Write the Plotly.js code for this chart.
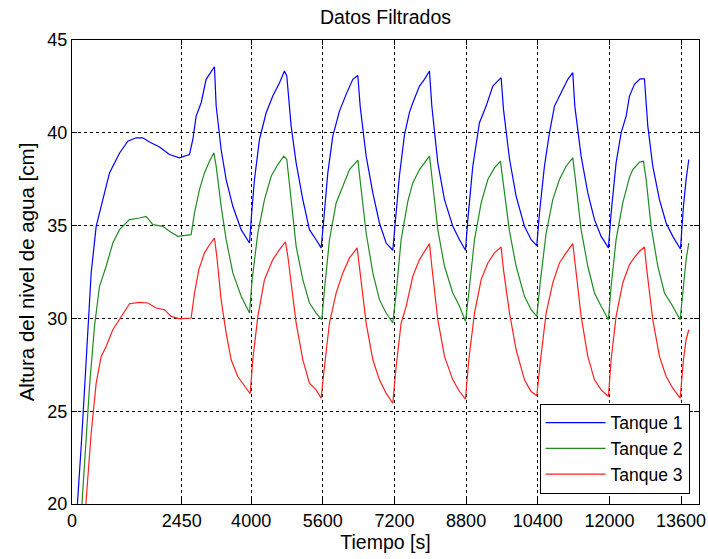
<!DOCTYPE html>
<html>
<head>
<meta charset="utf-8">
<script src="https://cdn.plot.ly/plotly-3.0.1.min.js"></script>
<style>html,body{margin:0;padding:0;background:#fff;}#chart{width:708px;height:559px;}</style>
</head>
<body>
<div id="chart"></div>
<script>
// Tick positions / labels
const xTicks = [0, 2450, 4000, 5600, 7200, 8800, 10400, 12000, 13600];
const xTickLabels = ["0", "2450", "4000", "5600", "7200", "8800", "10400", "12000", "13600"];
const yTicks = [20, 25, 30, 35, 40, 45];
const seriesNames = ["Tanque 1", "Tanque 2", "Tanque 3"];

// [tiempo (s), altura (cm)]
const tanque1 = [[80,18.5],[130,20.2],[205,23.1],[279,26.15],[353,29.57],[428,32.45],[540,34.96],[688,36.4],[837,37.84],[1060,38.9],[1247,39.55],[1433,39.73],[1581,39.73],[1730,39.5],[1954,39.24],[2177,38.83],[2400,38.65],[2623,38.83],[2698,39.64],[2772,40.9],[2884,41.62],[2995,42.88],[3107,43.33],[3181,43.56],[3219,41.44],[3330,39.1],[3442,37.48],[3591,36.04],[3777,34.78],[3963,34.06],[4000,35.3],[4074,37.48],[4186,39.64],[4335,41.08],[4484,41.98],[4633,42.7],[4744,43.33],[4796,43.06],[4893,40.36],[5005,38.38],[5154,36.4],[5302,34.78],[5451,34.24],[5563,33.8],[5615,35.14],[5712,37.84],[5823,39.82],[5972,41.17],[6121,42.07],[6270,42.88],[6382,43.09],[6434,41.44],[6568,38.74],[6717,36.76],[6865,35.14],[7014,34.06],[7163,33.67],[7223,35.32],[7312,37.7],[7424,39.9],[7535,41.1],[7610,41.62],[7759,42.52],[7870,42.88],[7982,43.33],[8034,41.44],[8168,38.38],[8317,36.4],[8503,34.96],[8652,34.24],[8786,33.67],[8838,35.32],[8949,38.2],[9098,40.54],[9247,41.44],[9396,42.52],[9582,42.97],[9634,41.26],[9768,38.6],[9917,36.58],[10103,34.96],[10252,34.24],[10378,33.92],[10438,35.68],[10549,38.2],[10661,40.0],[10773,41.44],[10921,42.16],[11070,42.88],[11182,43.24],[11227,41.44],[11368,38.74],[11517,36.76],[11666,35.32],[11815,34.42],[11978,33.8],[12038,35.68],[12149,38.38],[12261,40.0],[12373,40.9],[12447,41.98],[12559,42.61],[12685,42.91],[12782,42.91],[12857,40.36],[12968,38.2],[13117,36.4],[13266,35.14],[13415,34.42],[13586,33.74],[13653,36.04],[13712,37.48],[13772,38.56]];

const tanque2 = [[190,18.8],[227,20.2],[316,23.45],[391,26.33],[502,29.57],[614,31.73],[763,32.81],[912,34.06],[1060,34.78],[1284,35.32],[1507,35.41],[1656,35.5],[1805,35.05],[2028,34.96],[2177,34.69],[2363,34.42],[2660,34.51],[2735,35.68],[2846,36.94],[2958,37.84],[3070,38.47],[3167,38.92],[3219,38.2],[3330,36.04],[3442,34.24],[3591,32.45],[3777,31.19],[3963,30.29],[4022,32.09],[4149,34.6],[4298,36.4],[4447,37.66],[4595,38.29],[4729,38.74],[4796,38.56],[4893,36.4],[5005,33.88],[5154,32.09],[5302,30.83],[5451,30.29],[5578,29.93],[5637,31.55],[5749,34.24],[5898,36.22],[6047,37.12],[6196,38.02],[6382,38.53],[6434,37.48],[6568,34.6],[6717,32.45],[6865,31.01],[7014,30.29],[7163,29.75],[7238,31.37],[7349,34.24],[7498,36.3],[7610,37.3],[7759,38.02],[7982,38.74],[8034,37.66],[8168,34.78],[8317,32.81],[8503,31.37],[8652,30.65],[8786,29.84],[8860,31.37],[8987,34.24],[9136,36.22],[9285,37.48],[9433,38.11],[9567,38.47],[9619,37.48],[9768,34.7],[9917,32.81],[10103,31.19],[10252,30.47],[10378,30.11],[10453,31.91],[10587,34.6],[10735,36.4],[10884,37.48],[11033,38.2],[11182,38.65],[11241,37.48],[11368,34.78],[11517,32.81],[11666,31.37],[11815,30.65],[11978,29.93],[12038,31.73],[12149,34.24],[12298,36.22],[12447,37.6],[12522,38.02],[12671,38.42],[12760,38.47],[12820,37.48],[12931,34.96],[13080,32.81],[13229,31.37],[13415,30.65],[13579,29.93],[13653,31.73],[13712,33.17],[13772,34.06]];

const tanque3 = [[285,18.8],[316,20.2],[428,23.81],[540,26.51],[651,27.95],[763,28.49],[912,29.39],[1098,30.11],[1284,30.79],[1507,30.86],[1693,30.83],[1879,30.56],[2065,30.47],[2214,30.11],[2400,29.98],[2660,30.02],[2735,31.37],[2832,32.63],[2958,33.53],[3070,33.97],[3181,34.33],[3233,33.35],[3330,31.0],[3442,29.21],[3554,27.77],[3702,26.87],[3851,26.33],[3978,25.94],[4037,27.77],[4149,30.11],[4298,32.09],[4484,33.17],[4633,33.71],[4766,34.12],[4819,33.35],[4930,31.01],[5005,29.75],[5154,27.77],[5302,26.51],[5451,26.15],[5563,25.7],[5637,27.41],[5749,29.75],[5898,31.37],[6047,32.45],[6196,33.26],[6367,33.8],[6434,32.45],[6568,29.75],[6717,27.77],[6865,26.69],[7014,25.97],[7163,25.43],[7238,27.41],[7349,29.75],[7461,30.65],[7610,32.27],[7759,33.17],[7982,34.03],[8034,32.81],[8168,29.93],[8317,27.95],[8503,26.69],[8652,26.06],[8786,25.65],[8860,27.77],[8987,30.29],[9136,32.09],[9285,32.99],[9433,33.53],[9582,33.85],[9634,32.63],[9768,30.3],[9917,28.31],[10103,26.69],[10252,26.06],[10378,25.83],[10453,27.59],[10587,30.29],[10735,31.91],[10884,32.99],[11033,33.53],[11182,34.03],[11241,32.81],[11368,30.11],[11517,27.95],[11666,26.69],[11815,26.15],[11978,25.79],[12038,27.77],[12149,30.11],[12298,31.91],[12447,32.9],[12522,33.17],[12671,33.62],[12782,33.85],[12834,32.63],[12968,29.93],[13117,27.95],[13266,26.87],[13415,26.24],[13579,25.7],[13653,27.77],[13712,28.85],[13772,29.39]];

const seriesData = [tanque1, tanque2, tanque3];
const seriesColors = ["#0000ff", "#218b21", "#ff2020"];

const FONT = "Liberation Sans, Arial, Helvetica, sans-serif";

const traces = seriesData.map((d, i) => ({
  type: "scatter",
  mode: "lines",
  name: seriesNames[i],
  x: d.map(p => p[0]),
  y: d.map(p => p[1]),
  line: {color: seriesColors[i], width: 1.2}
}));

const axisCommon = {
  showline: true, linecolor: "#000", linewidth: 1, mirror: "ticks",
  ticks: "inside", ticklen: 5, tickcolor: "#000", tickwidth: 1,
  showgrid: true, gridcolor: "#000", gridwidth: 1, griddash: "3px,3px",
  zeroline: false, tickfont: {family: FONT, size: 18, color: "#000"},
  automargin: false, fixedrange: true
};

const layout = {
  width: 708, height: 559,
  paper_bgcolor: "#fff", plot_bgcolor: "#fff",
  margin: {l: 72, r: 9, t: 40, b: 55, pad: 0},
  font: {family: FONT, color: "#000"},
  title: {text: "Datos Filtrados", font: {family: FONT, size: 19.5, color: "#000"},
          x: 0.5, xref: "paper", xanchor: "center", y: 1 - 17/559, yref: "container", yanchor: "middle"},
  xaxis: Object.assign({}, axisCommon, {
    range: [0, 14000], tickmode: "array", tickvals: xTicks, ticktext: xTickLabels,
    title: {text: "Tiempo [s]", font: {family: FONT, size: 19.5, color: "#000"}, standoff: 4}
  }),
  yaxis: Object.assign({}, axisCommon, {
    range: [20, 45], tickmode: "array", tickvals: yTicks, ticktext: yTicks.map(String),
    title: {text: "Altura del nivel de agua [cm]", font: {family: FONT, size: 20.5, color: "#000"}, standoff: 7}
  }),
  showlegend: true,
  legend: {
    x: 0.985, y: 0.022, xanchor: "right", yanchor: "bottom",
    bgcolor: "#fff", bordercolor: "#000", borderwidth: 1,
    font: {family: FONT, size: 17.5, color: "#000"},
    entrywidth: 106, itemwidth: 60, tracegroupgap: 0
  }
};

Plotly.newPlot("chart", traces, layout, {displayModeBar: false, staticPlot: true});
</script>
</body>
</html>
